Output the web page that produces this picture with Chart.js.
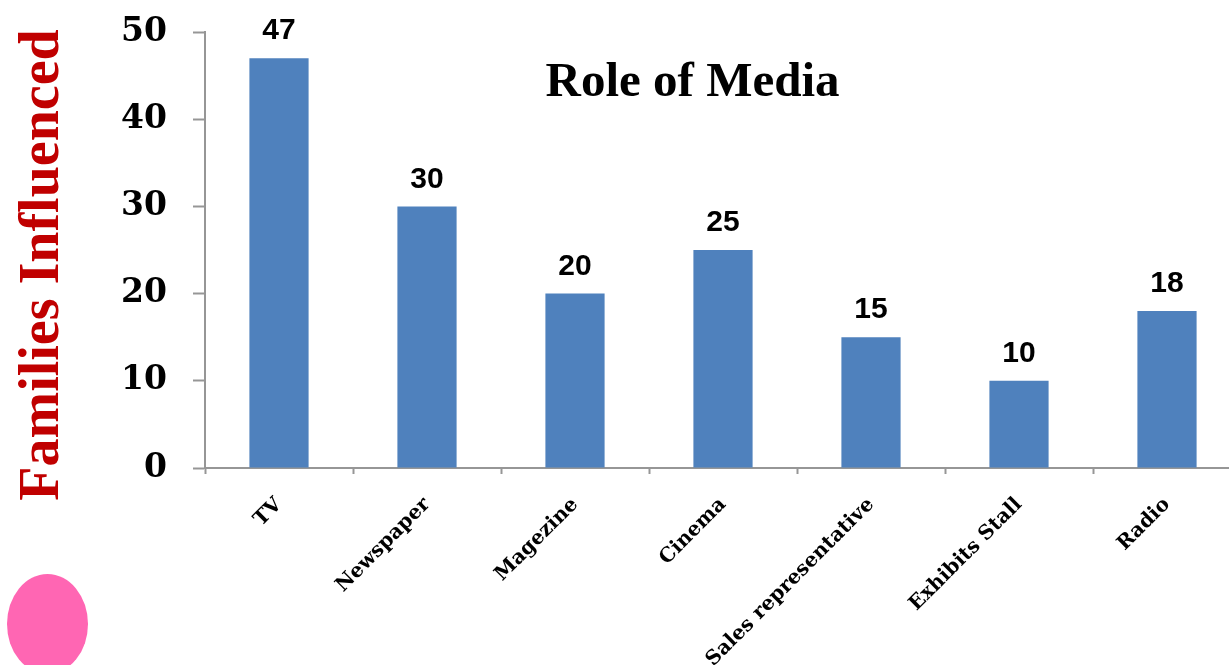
<!DOCTYPE html>
<html>
<head>
<meta charset="utf-8">
<script src="https://cdn.jsdelivr.net/npm/chart.js@4.4.1/dist/chart.umd.min.js"></script>
<style>
    html, body { margin: 0; padding: 0; background: #ffffff; overflow: hidden; }
    #wrap { position: relative; width: 1245px; height: 665px; }
    #dot {
        position: absolute; left: 7px; top: 574px; width: 81px; height: 100px;
        border-radius: 50%; background: #ff66b3;
    }
</style>
</head>
<body>
<div id="wrap">
    <canvas id="media-chart"></canvas>
    <div id="dot"></div>
</div>
<script>
// chart data
const categories = ["TV", "Newspaper", "Magezine", "Cinema", "Sales representative", "Exhibits Stall", "Radio"];
const families = [47, 30, 20, 25, 15, 10, 18];
const y_ticks = [0, 10, 20, 30, 40, 50];

const axis_color = '#969696';

/**
 * Chart title inside the plot area and the y axis title
 */
const chart_texts = {
    id: 'chart_texts',
    afterDraw(chart) {
        const area = chart.chartArea;
        const ctx = chart.ctx;
        ctx.save();
        ctx.font = 'bold 49px "Liberation Serif"';
        ctx.fillStyle = '#000000';
        ctx.textAlign = 'center';
        ctx.textBaseline = 'alphabetic';
        ctx.fillText('Role of Media', area.left + area.width * 0.4706, area.top + 64);
        ctx.restore();

        ctx.save();
        ctx.translate(58, area.top + area.height / 2 + 15);
        ctx.rotate(-Math.PI / 2);
        ctx.font = 'bold 56px "Liberation Serif"';
        ctx.fillStyle = '#c00000';
        ctx.textAlign = 'center';
        ctx.textBaseline = 'alphabetic';
        ctx.fillText('Families Influenced', 0, 0);
        ctx.restore();
    }
};

/**
 * Value labels above each bar
 */
const bar_values = {
    id: 'bar_values',
    afterDatasetsDraw(chart) {
        const ctx = chart.ctx;
        const meta = chart.getDatasetMeta(0);
        ctx.save();
        ctx.font = 'bold 30px "Liberation Sans"';
        ctx.fillStyle = '#000000';
        ctx.textAlign = 'center';
        ctx.textBaseline = 'middle';
        meta.data.forEach((bar, i) => {
            ctx.fillText(String(families[i]), bar.x, bar.y - 27);
        });
        ctx.restore();
    }
};

new Chart(document.getElementById('media-chart').getContext('2d'), {
    type: 'bar',
    data: {
        labels: categories,
        datasets: [{
            data: families,
            backgroundColor: '#4f81bd',
            barPercentage: 0.4,
            categoryPercentage: 1.0
        }]
    },
    options: {
        responsive: true,
        maintainAspectRatio: false,
        animation: false,
        layout: { padding: { top: 32, right: 4, left: 0, bottom: 0 } },
        plugins: {
            legend: { display: false },
            tooltip: { enabled: false }
        },
        scales: {
            x: {
                afterFit: (scale) => { scale.height = 197; },
                grid: {
                    drawOnChartArea: false,
                    tickLength: 6,
                    tickColor: axis_color,
                    tickWidth: 2
                },
                border: { color: axis_color, width: 2 },
                ticks: {
                    color: '#000000',
                    autoSkip: false,
                    minRotation: 45,
                    maxRotation: 45,
                    padding: 19,
                    font: { family: '"DejaVu Serif"', size: 20, weight: 'bold' }
                }
            },
            y: {
                min: 0,
                max: 50,
                afterFit: (scale) => {
                    scale.width = 205;
                    scale.paddingTop = 0;
                    scale.paddingBottom = 0;
                },
                afterBuildTicks: (scale) => { scale.ticks = y_ticks.map(v => ({ value: v })); },
                grid: {
                    drawOnChartArea: false,
                    tickLength: 12,
                    tickColor: axis_color,
                    tickWidth: 2
                },
                border: { color: axis_color, width: 2 },
                ticks: {
                    color: '#000000',
                    padding: 26,
                    font: { family: '"DejaVu Serif"', size: 33, weight: 'bold' }
                }
            }
        }
    },
    plugins: [chart_texts, bar_values]
});
</script>
</body>
</html>
